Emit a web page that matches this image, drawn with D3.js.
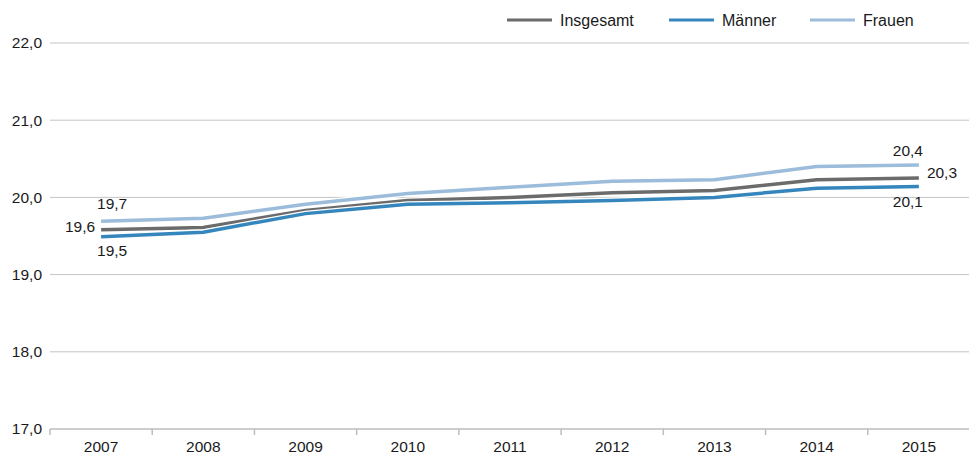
<!DOCTYPE html>
<html>
<head>
<meta charset="utf-8">
<script src="https://cdn.jsdelivr.net/npm/d3@7"></script>
<style>
  body { margin: 0; background: #fff; }
  svg { display: block; font-family: "Liberation Sans", Arial, sans-serif; }
</style>
</head>
<body>
<svg id="chart" width="969" height="457"></svg>
<script>
"use strict";

const years = ["2007", "2008", "2009", "2010", "2011", "2012", "2013", "2014", "2015"];
const insgesamt = [19.58, 19.61, 19.83, 19.96, 20.0, 20.06, 20.09, 20.23, 20.25];
const maenner = [19.49, 19.55, 19.79, 19.91, 19.93, 19.96, 20.0, 20.12, 20.14];
const frauen = [19.69, 19.73, 19.91, 20.05, 20.13, 20.21, 20.23, 20.40, 20.42];
const y_ticks = [17, 18, 19, 20, 21, 22];

const series = [
  { name: "Frauen", values: frauen, color: "#9bbcdb" },
  { name: "Insgesamt", values: insgesamt, color: "#6b6b6b" },
  { name: "Männer", values: maenner, color: "#3586bd" }
];
const legend_order = ["Insgesamt", "Männer", "Frauen"];

const fmt = v => d3.format(".1f")(v).replace(".", ",");
const font_size = 15.5;

let chart_svg = d3.select("#chart");
let chart_left = 50, chart_right = 970, chart_top = 43, chart_bottom = 429;

let x_scale = d3.scaleBand().domain(years).range([chart_left, chart_right]);
let y_scale = d3.scaleLinear().domain([17, 22]).range([chart_bottom, chart_top]);

// grid lines
chart_svg.append("g").selectAll("line")
  .data(y_ticks.filter(d => d > 17))
  .enter().append("line")
  .attr("x1", chart_left).attr("x2", chart_right)
  .attr("y1", d => y_scale(d)).attr("y2", d => y_scale(d))
  .attr("stroke", "#c4c4c4").attr("stroke-width", 1);

// y labels
chart_svg.append("g").selectAll("text")
  .data(y_ticks)
  .enter().append("text")
  .attr("x", 42).attr("y", d => y_scale(d))
  .attr("dy", "0.35em")
  .attr("text-anchor", "end")
  .attr("font-size", font_size).attr("fill", "#1a1a1a")
  .text(fmt);

// x axis
let x_axis = chart_svg.append("g")
  .attr("transform", "translate(0," + chart_bottom + ")");
x_axis.append("line")
  .attr("x1", chart_left).attr("x2", chart_right)
  .attr("stroke", "#bdbdbd").attr("stroke-width", 1.5);
x_axis.selectAll(".tk")
  .data(years.map(y => x_scale(y)).concat([chart_right]))
  .enter().append("line")
  .attr("x1", d => d).attr("x2", d => d)
  .attr("y1", 0).attr("y2", 6)
  .attr("stroke", "#bdbdbd").attr("stroke-width", 1.5);
x_axis.selectAll("text")
  .data(years)
  .enter().append("text")
  .attr("x", d => x_scale(d) + x_scale.bandwidth() / 2)
  .attr("y", 23)
  .attr("text-anchor", "middle")
  .attr("font-size", font_size).attr("fill", "#1a1a1a")
  .text(d => d);

// lines
let line = d3.line()
  .x((d, i) => x_scale(years[i]) + x_scale.bandwidth() / 2)
  .y(d => y_scale(d));

let mz_lines = chart_svg.append("g");
for (let s of series) {
  mz_lines.append("path")
    .attr("d", line(s.values))
    .attr("fill", "none")
    .attr("stroke", "#fff")
    .attr("stroke-width", 6);
  mz_lines.append("path")
    .attr("d", line(s.values))
    .attr("fill", "none")
    .attr("stroke", s.color)
    .attr("stroke-width", 3.5);
}

// value labels at the ends
const x_first = x_scale(years[0]) + x_scale.bandwidth() / 2;
const x_last = x_scale(years[years.length - 1]) + x_scale.bandwidth() / 2;
const n = years.length - 1;
const end_labels = [
  { x: x_first + 11, y: y_scale(frauen[0]) - 18, v: frauen[0], anchor: "middle" },
  { x: x_first - 6, y: y_scale(insgesamt[0]) - 3, v: insgesamt[0], anchor: "end" },
  { x: x_first + 11, y: y_scale(maenner[0]) + 14, v: maenner[0], anchor: "middle" },
  { x: x_last - 11, y: y_scale(frauen[n]) - 14, v: frauen[n], anchor: "middle" },
  { x: x_last + 8, y: y_scale(insgesamt[n]) - 6, v: insgesamt[n], anchor: "start" },
  { x: x_last - 11, y: y_scale(maenner[n]) + 15, v: maenner[n], anchor: "middle" }
];
chart_svg.append("g").selectAll("text")
  .data(end_labels)
  .enter().append("text")
  .attr("x", d => d.x).attr("y", d => d.y)
  .attr("dy", "0.35em")
  .attr("text-anchor", d => d.anchor)
  .attr("font-size", font_size).attr("fill", "#1a1a1a")
  .text(d => fmt(d.v));

// legend
const legend_x = [507, 669, 810];
let legend = chart_svg.append("g");
legend_order.forEach((name, i) => {
  let s = series.find(d => d.name === name);
  legend.append("line")
    .attr("x1", legend_x[i]).attr("x2", legend_x[i] + 45)
    .attr("y1", 20).attr("y2", 20)
    .attr("stroke", s.color).attr("stroke-width", 3);
  legend.append("text")
    .attr("x", legend_x[i] + 53).attr("y", 20)
    .attr("dy", "0.35em")
    .attr("font-size", 16).attr("fill", "#1a1a1a")
    .text(name);
});
</script>
</body>
</html>
